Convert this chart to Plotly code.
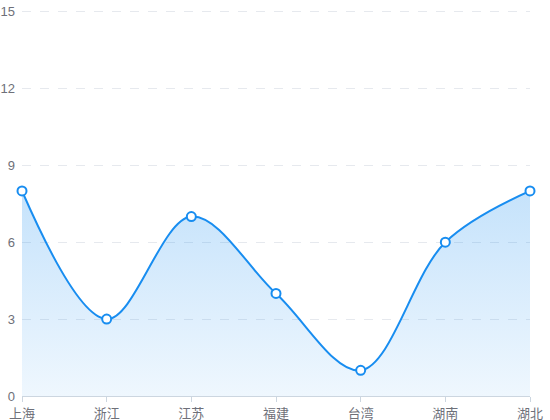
import plotly.graph_objects as go

categories = ["上海", "浙江", "江苏", "福建", "台湾", "湖南", "湖北"]
values = [8, 3, 7, 4, 1, 6, 8]
y_ticks = [0, 3, 6, 9, 12, 15]

line_color = "#188df0"
font_family = "Liberation Sans, Noto Sans CJK SC, sans-serif"

fig = go.Figure()
fig.add_trace(go.Scatter(
    x=categories, y=values,
    mode="lines+markers",
    line=dict(color=line_color, width=2, shape="spline", smoothing=1.0),
    marker=dict(size=9, color="white", line=dict(color=line_color, width=2)),
    fill="tozeroy",
    fillgradient=dict(type="vertical",
                      colorscale=[[0, "rgba(24,141,240,0.07)"], [1, "rgba(24,141,240,0.25)"]]),
    hoverinfo="x+y",
    cliponaxis=False,
))

fig.update_layout(
    width=550, height=420,
    margin=dict(l=22, r=20, t=10, b=24),
    paper_bgcolor="white", plot_bgcolor="white",
    showlegend=False,
    font=dict(family=font_family, size=13, color="#6e7079"),
)
fig.update_xaxes(
    type="category", range=[0, len(categories) - 1],
    automargin=False,
    showgrid=False, showline=True, linecolor="#ccd6e0", linewidth=1,
    ticks="outside", ticklen=5, tickcolor="#ccd6e0",
    tickfont=dict(size=13, color="#6e7079"),
    zeroline=False,
)
fig.update_yaxes(
    range=[0, 15.06], tickvals=y_ticks,
    automargin=False,
    showgrid=True, gridcolor="#e6e9ee", griddash="dash", gridwidth=1,
    showline=False, zeroline=False, ticks="",
    ticklabelstandoff=6,
    tickfont=dict(size=13, color="#6e7079"),
)
fig.write_html(
    "out.html",
    config={"displayModeBar": False},
    post_script="document.body.style.margin='0';document.body.style.overflow='hidden';",
)
